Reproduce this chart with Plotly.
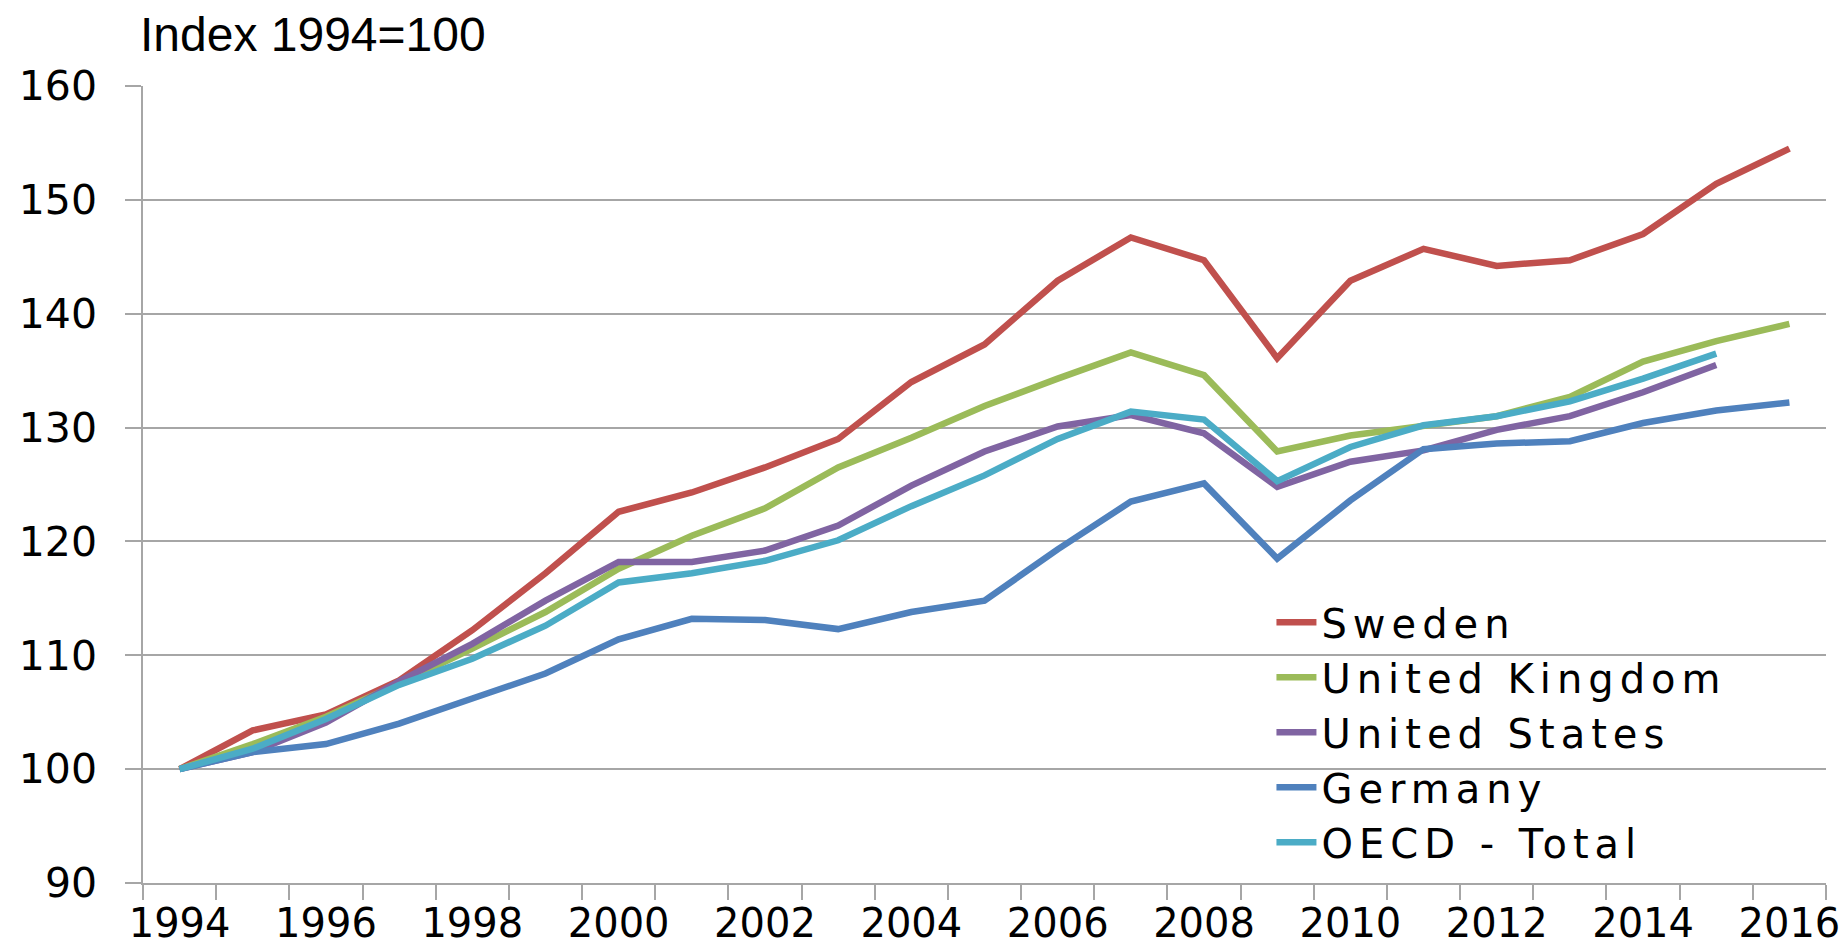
import plotly.graph_objects as go

years = list(range(1994, 2017))

sweden = [100, 103.4, 104.8, 107.8, 112.2, 117.2, 122.6, 124.3, 126.5, 129.0, 134.0, 137.3,
          142.9, 146.7, 144.7, 136.1, 142.9, 145.7, 144.2, 144.7, 147.0, 151.4, 154.5]
united_kingdom = [100, 102.2, 104.6, 107.5, 110.6, 113.8, 117.6, 120.5, 122.9, 126.5, 129.1, 131.9,
                  134.3, 136.6, 134.6, 127.9, 129.3, 130.2, 131.0, 132.7, 135.8, 137.6, 139.1]
united_states = [100, 101.5, 104.1, 107.7, 111.0, 114.8, 118.2, 118.2, 119.2, 121.4, 124.9, 127.9,
                 130.1, 131.1, 129.5, 124.8, 127.0, 128.0, 129.8, 131.0, 133.1, 135.5, None]
germany = [100, 101.5, 102.2, 104.0, 106.2, 108.4, 111.4, 113.2, 113.1, 112.3, 113.8, 114.8,
           119.3, 123.5, 125.1, 118.5, 123.6, 128.1, 128.6, 128.8, 130.4, 131.5, 132.2]
oecd_total = [100, 101.8, 104.4, 107.4, 109.7, 112.6, 116.4, 117.2, 118.3, 120.1, 123.1, 125.8,
              129.0, 131.4, 130.7, 125.3, 128.3, 130.2, 131.0, 132.3, 134.3, 136.5, None]

series_names = ["Sweden", "United Kingdom", "United States", "Germany", "OECD - Total"]
series_values = [sweden, united_kingdom, united_states, germany, oecd_total]
series_colors = ["#C0504D", "#9BBB59", "#8064A2", "#4F81BD", "#4BACC6"]

x_tick_years = list(range(1994, 2017, 2))
y_ticks = [90, 100, 110, 120, 130, 140, 150, 160]

fig = go.Figure()
for name, vals, col in zip(series_names, series_values, series_colors):
    fig.add_trace(go.Scatter(
        x=years, y=vals, mode="lines",
        name='<span style="letter-spacing:6px">' + name + '</span>',
        line=dict(color=col, width=6.5), connectgaps=False,
    ))

grid_col = "#A6A6A6"
fig.update_layout(
    width=1847, height=952,
    margin=dict(l=135, r=29, t=78, b=77, autoexpand=False),
    paper_bgcolor="white", plot_bgcolor="white",
    font=dict(family="DejaVu Sans", color="black"),
    title=dict(text="Index 1994=100", x=132 / 1847, xref="container", xanchor="left",
               y=1 - 9 / 952, yref="container", yanchor="top",
               font=dict(family="Liberation Sans", size=48, color="black")),
    showlegend=True,
    legend=dict(x=0.6705, y=0.368, xanchor="left", yanchor="top",
                bgcolor="rgba(0,0,0,0)", font=dict(family="DejaVu Sans", size=40, color="black"),
                itemwidth=40, tracegroupgap=0),
)
fig.update_xaxes(
    range=[1993.5, 2016.5], tickmode="array", tickvals=x_tick_years,
    ticktext=[str(y) for y in x_tick_years], ticks="", showgrid=False,
    showline=True, linecolor=grid_col, linewidth=1.5, automargin=False,
    tickfont=dict(family="DejaVu Sans", size=40, color="black"),
    ticklabelstandoff=4,
    minor=dict(tickmode="array", tickvals=[y - 0.5 for y in years] + [2016.5],
               ticks="outside", ticklen=15, tickcolor=grid_col, tickwidth=1.5, showgrid=False),
    zeroline=False,
)
fig.update_yaxes(
    range=[90, 160], tickmode="array", tickvals=y_ticks,
    ticks="outside", ticklen=16, tickcolor=grid_col, tickwidth=1.5,
    showgrid=True, gridcolor=grid_col, gridwidth=1.5, automargin=False,
    showline=True, linecolor=grid_col, linewidth=1.5,
    tickfont=dict(family="DejaVu Sans", size=41, color="black"),
    ticklabelstandoff=20, zeroline=False,
)
fig.write_html("out.html")
